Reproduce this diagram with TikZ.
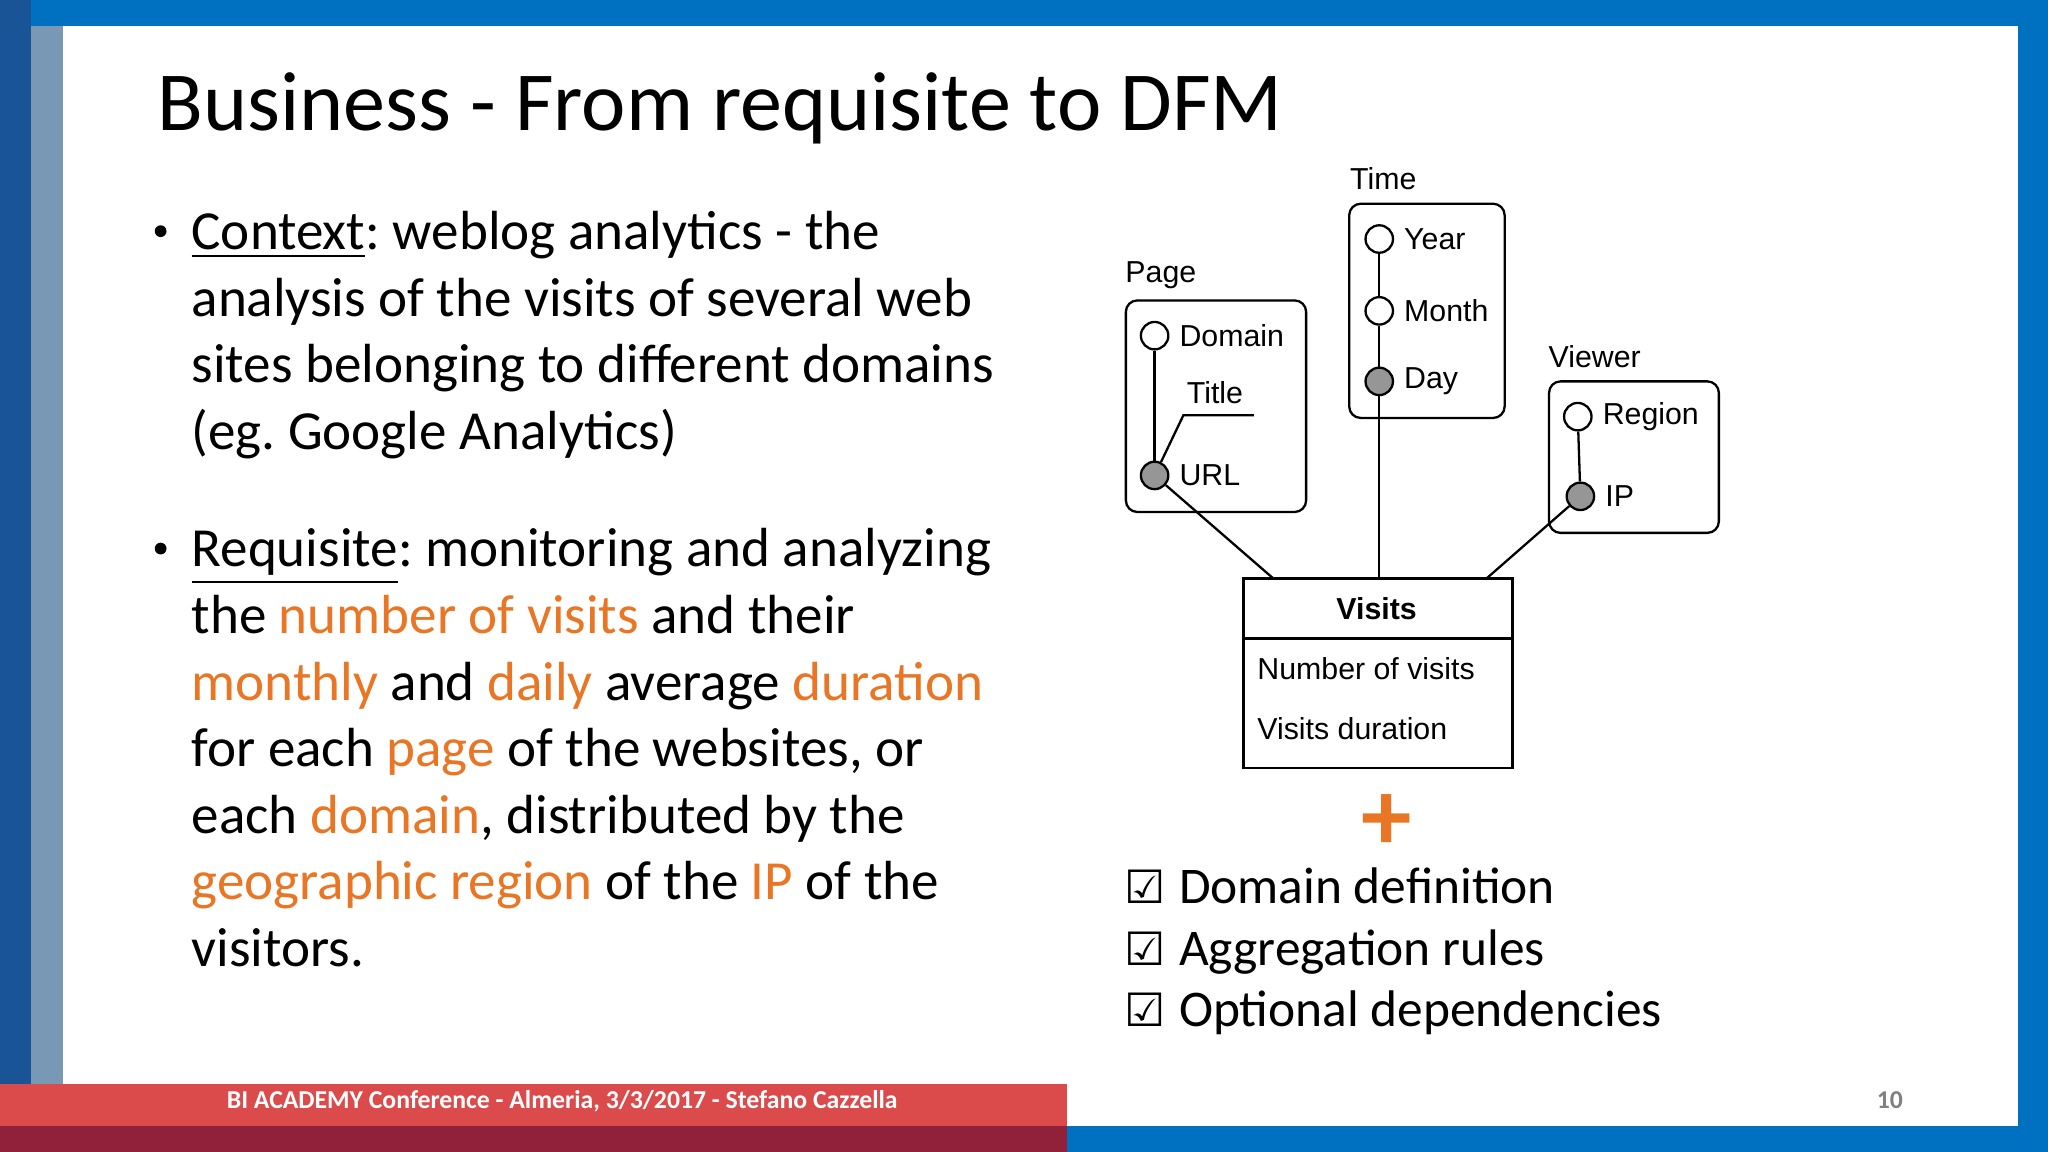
\documentclass[tikz,border=0pt]{standalone}
\usepackage{fontspec}
\setmainfont{Carlito}
\newfontfamily\dfmfont{Liberation Sans}
\newfontfamily\symfont{DejaVu Sans}
\usetikzlibrary{positioning}
\frenchspacing
\definecolor{slideblue}{RGB}{0,112,192}
\definecolor{darkblue}{RGB}{24,84,150}
\definecolor{greyblue}{RGB}{120,152,182}
\definecolor{footred}{RGB}{220,75,75}
\definecolor{footdark}{RGB}{145,32,58}
\definecolor{accent}{RGB}{232,118,36}
\definecolor{attrgrey}{RGB}{150,150,150}

\begin{document}
\begin{tikzpicture}[x=0.01cm,y=-0.01cm]
\tikzset{body/.style = {anchor=base west, inner sep=0pt, font=\fontsize{12}{15}\selectfont}}
\tikzset{bulletmark/.style = {circle, fill=black, inner sep=0pt, minimum size=0.09cm}}
\tikzset{checkitem/.style = {anchor=base west, inner sep=0pt, font=\fontsize{11.2}{14}\selectfont}}
\tikzset{dfm/.style = {anchor=west, inner sep=0pt, font=\dfmfont\fontsize{6.6}{8}\selectfont}}
\tikzset{dimbox/.style = {draw, rounded corners=2.5pt, line width=0.5pt}}
\tikzset{attr/.style = {circle, draw, fill=white, inner sep=0pt, minimum size=0.21cm, line width=0.5pt}}
\tikzset{keyattr/.style = {attr, fill=attrgrey}}
\newcommand{\hl}[1]{\textcolor{accent}{#1}}

\useasboundingbox (0,0) rectangle (1568,882);
% slide frame
\fill[slideblue] (0,0) rectangle (1568,882);
\fill[darkblue] (0,0) rectangle (24,882);
\fill[greyblue] (24,20) rectangle (48,862);
\fill[white] (48,20) rectangle (1545,862);
\fill[footred] (0,830) rectangle (817,862);
\fill[footdark] (0,862) rectangle (817,882);
\node[anchor=base west, inner sep=0pt, white, font=\bfseries\fontsize{5.6}{7}\selectfont] (footer) at (173,849) {BI ACADEMY Conference - Almeria, 3/3/2017 - Stefano Cazzella};
\node[anchor=base, inner sep=0pt, gray, font=\bfseries\fontsize{5.6}{7}\selectfont] (pagenum) at (1447,849) {10};

% title
\node[anchor=base west, inner sep=0pt, font=\fontsize{18.3}{20}\selectfont] (title) at (120,100) {Business - From requisite to DFM};

% bullets
\node[bulletmark] (b1) at (123,177) {};
\node[bulletmark] (b2) at (123,420) {};
\foreach \y/\txt [count=\i] in {
  191/{\underline{Context}: weblog analytics - the},
  242/{analysis of the visits of several web},
  293/{sites belonging to different domains},
  344/{(eg. Google Analytics)},
  434/{\underline{Requisite}: monitoring and analyzing},
  485/{the \hl{number of visits} and their},
  536/{\hl{monthly} and \hl{daily} average \hl{duration}},
  587/{for each \hl{page} of the websites, or},
  638/{each \hl{domain}, distributed by the},
  689/{\hl{geographic region} of the \hl{IP} of the},
  740/{visitors.}}
  \node[body] (line\i) at (146,\y) {\txt};

% DFM
\draw[dimbox] (862,230) rectangle (1000,392);
\draw[dimbox] (1033,156) rectangle (1152,320);
\draw[dimbox] (1186,292) rectangle (1316,408);
\node[dfm] (pagelbl) at (861,211) {Page};
\node[dfm] (timelbl) at (1033,137) {Time};
\node[dfm] (viewerlbl) at (1185,273) {Viewer};

\node[attr] (domain) at (884,257) {};
\node[keyattr] (url) at (884,364) {};
\node[attr] (year) at (1056,183) {};
\node[attr] (month) at (1056,238) {};
\node[keyattr] (day) at (1056,292) {};
\node[attr] (region) at (1208,319) {};
\node[keyattr] (ip) at (1210,380) {};
\node[dfm, right=2pt of domain] (domaintxt) {Domain};
\node[dfm, right=2pt of url] (urltxt) {URL};
\node[dfm, right=2pt of year] (yeartxt) {Year};
\node[dfm, right=2pt of month] (monthtxt) {Month};
\node[dfm, right=2pt of day] (daytxt) {Day};
\node[dfm, right=2pt of region] (regiontxt) {Region};
\node[dfm, right=2pt of ip] (iptxt) {IP};
\node[dfm] (titletxt) at (908,301) {Title};
\coordinate (titleA) at (906,318);
\coordinate (titleB) at (960,318);

\draw[line width=0.5pt] (domain) -- (url);
\draw[line width=0.5pt] (titleB) -- (titleA) -- (url);
\draw[line width=0.5pt] (year) -- (month) -- (day);
\draw[line width=0.5pt] (region) -- (ip);

% fact
\draw[line width=0.6pt] (952,443) rectangle (1158,588);
\draw[line width=0.6pt] (952,489) -- (1158,489);
\node[anchor=center, inner sep=0pt, font=\dfmfont\bfseries\fontsize{6.6}{8}\selectfont] (visits) at (1054,466) {Visits};
\node[dfm] (numvisits) at (962,512) {Number of visits};
\node[dfm] (duration) at (962,558) {Visits duration};
\coordinate (factA) at (975,443);
\coordinate (factB) at (1056,443);
\coordinate (factC) at (1138,443);
\draw[line width=0.5pt] (url) -- (factA);
\draw[line width=0.5pt] (day) -- (factB);
\draw[line width=0.5pt] (ip) -- (factC);

% plus and checklist
\node[inner sep=0pt, accent, font=\bfseries\fontsize{22}{22}\selectfont] (plus) at (1062,630) {+};
\foreach \y/\txt [count=\i] in {692/Domain definition, 739/Aggregation rules, 786/Optional dependencies}{
  \node[checkitem, font=\symfont\fontsize{10}{12}\selectfont] (chk\i) at (860,\y) {\char"2611};
  \node[checkitem] (item\i) at (902,\y) {\txt};
}
\end{tikzpicture}
\end{document}
